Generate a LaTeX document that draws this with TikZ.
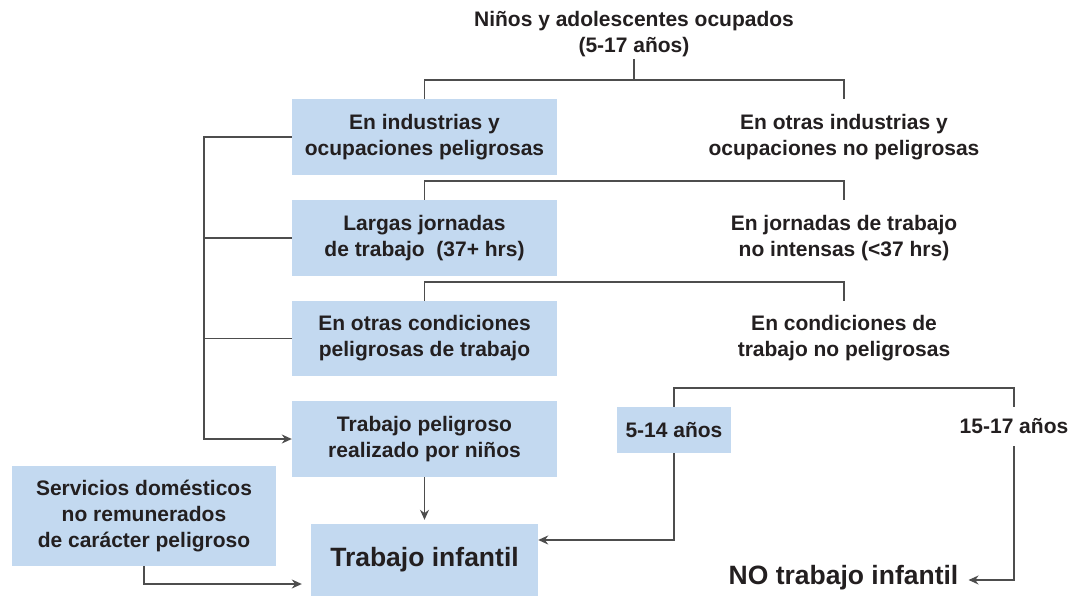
\documentclass[tikz,border=0pt]{standalone}
\usepackage{fontspec}
\setmainfont{Liberation Sans}
\usepackage{tikz}
\usetikzlibrary{arrows.meta, calc}

\definecolor{cajaazul}{HTML}{C3D9F0}
\definecolor{gris}{HTML}{4D4D4D}
\definecolor{texto}{HTML}{231F20}

\begin{document}
\begin{tikzpicture}[x=1pt, y=-1pt,
        caja/.style={fill=cajaazul, inner sep=0pt, align=center, text=texto,
            font=\bfseries\fontsize{21}{26}\selectfont},
        libre/.style={caja, fill=none},
        grande/.style={font=\bfseries\fontsize{26.5}{30}\selectfont},
        conector/.style={draw=gris, line width=1.3pt},
        flecha/.style={conector, -{Stealth[length=10pt, width=9pt]}}]
            \useasboundingbox (0,0) rectangle (1070,596);

            % nodos
            \node[libre, inner sep=2pt] (titulo) at (634,34) {Niños y adolescentes ocupados\\(5-17 años)};
            \node[caja, minimum width=265, minimum height=76] (peli1) at (424.5,137) {En industrias y\\ocupaciones peligrosas};
            \node[libre, minimum height=76] (nopeli1) at (844,137) {En otras industrias y\\ocupaciones no peligrosas};
            \node[caja, minimum width=265, minimum height=76] (peli2) at (424.5,238) {Largas jornadas\\de trabajo~~(37+ hrs)};
            \node[libre, minimum height=76] (nopeli2) at (844,238) {En jornadas de trabajo\\no intensas (<37 hrs)};
            \node[caja, minimum width=265, minimum height=75] (peli3) at (424.5,338.5) {En otras condiciones\\peligrosas de trabajo};
            \node[libre, minimum height=75] (nopeli3) at (844,338.5) {En condiciones de\\trabajo no peligrosas};
            \node[caja, minimum width=265, minimum height=76] (peligroso) at (424.5,439) {Trabajo peligroso\\realizado por niños};
            \node[caja, minimum width=114, minimum height=46] (menor) at (674,430) {5-14 años};
            \node[libre, minimum height=39] (mayor) at (1014,426.5) {15-17 años};
            \node[caja, minimum width=264, minimum height=100] (domestico) at (144,516) {Servicios domésticos\\no remunerados\\de carácter peligroso};
            \node[caja, grande, minimum width=227, minimum height=72] (infantil) at (424.5,560) {Trabajo infantil};
            \node[libre, grande] (noinfantil) at (843.5,578) {NO trabajo infantil};

            % ramas
            \draw[conector] (titulo.south) -- (titulo.south |- 0,80);
            \foreach \p\q\y in {peli1/nopeli1/80, peli2/nopeli2/181, peli3/nopeli3/282} {
                \draw[conector] (\p.north) -- (\p.north |- 0,\y) -| (\q.north);
            }
            \draw[conector] (menor.north) -- (menor.north |- 0,388) -| (mayor.north);

            % columna izquierda
            \coordinate (bus) at (204,137);
            \draw[flecha] (peli1.west) -- (bus) |- (peligroso.west);
            \foreach \p in {peli2, peli3} {
                \draw[conector] (\p.west) -- (\p.west -| bus);
            }

            % hacia trabajo infantil
            \draw[flecha, shorten >=4pt] (peligroso.south) -- (infantil.north);
            \draw[flecha] (menor.south) |- ([yshift=20pt]infantil.east);
            \draw[flecha, shorten >=9pt] (domestico.south) |- ([yshift=-24pt]infantil.west);
            \draw[flecha, shorten >=10pt] (mayor.south) |- ([yshift=-2pt]noinfantil.east);
\end{tikzpicture}
\end{document}
